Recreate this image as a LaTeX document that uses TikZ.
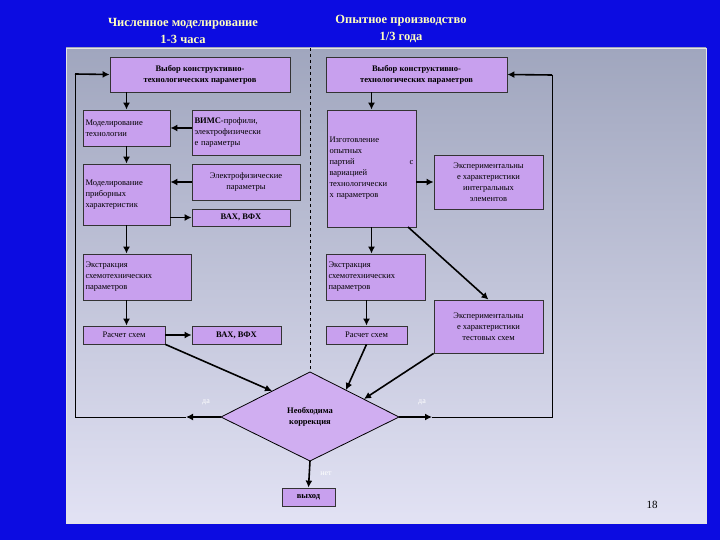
\documentclass[tikz,border=0pt]{standalone}
\usepackage{fontspec}
\setmainfont{Liberation Serif}
\usetikzlibrary{arrows.meta}
\definecolor{bg}{RGB}{12,12,225}
\definecolor{boxc}{RGB}{200,160,238}
\definecolor{titc}{RGB}{255,255,190}
\begin{document}
\begin{tikzpicture}[x=1pt,y=-1pt,
 box/.style={draw=black!80,line width=0.8pt,fill=boxc,inner sep=1.5pt,font=\fontsize{8.5}{11}\selectfont,align=center},
 lbox/.style={box,align=left},
 bb/.style={font=\bfseries\fontsize{8.5}{11}\selectfont},
 arr/.style={line width=1.6pt,-{Latex[length=7pt,width=7pt]}},
 ln/.style={line width=1pt}]
\useasboundingbox (0,0) rectangle (720,540);
\fill[bg] (0,0) rectangle (720,540);
\shade[top color={rgb,255:red,160;green,166;blue,190},bottom color={rgb,255:red,226;green,226;blue,244}] (66,48) rectangle (706,523);
\draw[white!80!gray,line width=0.8pt] (66,48) rectangle (706,523);
\node[titc,font=\bfseries\fontsize{12.5}{17}\selectfont,align=center] (t1) at (183,31) {Численное моделирование\\1-3 часа};
\node[titc,font=\bfseries\fontsize{12.5}{17}\selectfont,align=center] (t2) at (401,29) {Опытное производство\\1/3 года};
\draw[dashed,line width=0.8pt] (310,48) -- (310,372);

\node[box,bb,minimum width=180,minimum height=35] (L1) at (200,74.5) {Выбор конструктивно-\\технологических параметров};
\node[box,bb,minimum width=181,minimum height=35] (R1) at (416.5,74.5) {Выбор конструктивно-\\технологических параметров};
\node[lbox,minimum width=87,minimum height=36,text width=82] (MT) at (126.5,128) {Моделирование\\технологии};
\node[lbox,minimum width=108,minimum height=45,text width=103] (VI) at (246,132.5) {\textbf{ВИМС}-профили,\\электрофизически\\е параметры};
\node[lbox,minimum width=87,minimum height=61,text width=82] (MP) at (126.5,194.5) {Моделирование\\приборных\\характеристик};
\node[box,minimum width=108,minimum height=36] (EL) at (246,182) {Электрофизические\\параметры};
\node[box,bb,minimum width=98,minimum height=17] (V1) at (241,217.5) {ВАХ, ВФХ};
\node[lbox,minimum width=89,minimum height=117,text width=84] (IZ) at (371.5,168.5) {Изготовление\\опытных\\партий \hfill с\\вариацией\\технологически\\х параметров};
\node[box,minimum width=109,minimum height=54] (EI) at (488.5,182) {Экспериментальны\\е характеристики\\интегральных\\элементов};
\node[lbox,minimum width=108,minimum height=46,text width=103] (XL) at (137,277) {Экстракция\\схемотехнических\\параметров};
\node[lbox,minimum width=99,minimum height=46,text width=94] (XR) at (375.5,277) {Экстракция\\схемотехнических\\параметров};
\node[box,minimum width=82,minimum height=18] (RL) at (124,335) {Расчет схем};
\node[box,bb,minimum width=89,minimum height=18] (V2) at (236.5,335) {ВАХ, ВФХ};
\node[box,minimum width=81,minimum height=18] (RR) at (366.5,335) {Расчет схем};
\node[box,minimum width=109,minimum height=53] (ET) at (488.5,326.5) {Экспериментальны\\е характеристики\\тестовых схем};
\node[box,bb,minimum width=53,minimum height=18] (VY) at (308.5,497) {выход};

\coordinate (dl) at (221,417); \coordinate (dr) at (399,417);
\coordinate (dt) at (310,372); \coordinate (db) at (310,461);
\draw[line width=0.8pt,fill=boxc!85!white] (dl) -- (dt) -- (dr) -- (db) -- cycle;
\node[bb,align=center] (DN) at (310,417) {Необходима\\коррекция};

\draw[arr] (L1.south -| MT) -- (MT.north);
\draw[arr] (VI.west |- MT) -- (MT.east);
\draw[arr] (EL.west) -- (EL.west -| MP.east);
\draw[arr] (MP.east |- V1) -- (V1.west);
\draw[arr] (MT) -- (MP);
\draw[arr] (MP.south) -- (MP.south |- XL.north);
\draw[arr] (XL.south -| MP) -- (RL.north -| MP);
\draw[arr] (RL.east) -- (V2.west);
\coordinate (p1) at (272,391);
\draw[arr] (RL.south east) -- (p1);
\draw[arr] (R1.south -| IZ) -- (IZ.north);
\draw[arr] (IZ.east |- EI) -- (EI.west);
\draw[arr] (IZ.south) -- (IZ.south |- XR.north);
\draw[arr] (408,227) -- (ET.north);
\draw[arr] (XR.south -| RR) -- (RR.north);
\coordinate (p2) at (346,390); \coordinate (p3) at (364,399);
\draw[arr] (RR.south) -- (p2);
\draw[arr] (ET.south west) -- (p3);
\draw[arr] (db) -- (VY.north);

\coordinate (la) at (186,417); \coordinate (ra) at (432,417);
\draw[arr] (dl) -- (la);
\draw[ln] (la) -- (75,417) -- (75,74) coordinate (lc);
\draw[arr] (lc) -- (L1.west);
\draw[arr] (dr) -- (ra);
\draw[ln] (ra) -- (552,417) -- (552,75) coordinate (rc);
\draw[arr] (rc) -- (R1.east);

\node[white,font=\fontsize{8}{9}\selectfont] (y1) at (206,402) {да};
\node[white,font=\fontsize{8}{9}\selectfont] (y2) at (422,402) {да};
\node[white,font=\fontsize{8}{9}\selectfont] (n1) at (326,474) {нет};
\node[black,font=\fontsize{11}{13}\selectfont] (pg) at (652,505) {18};
\end{tikzpicture}
\end{document}
